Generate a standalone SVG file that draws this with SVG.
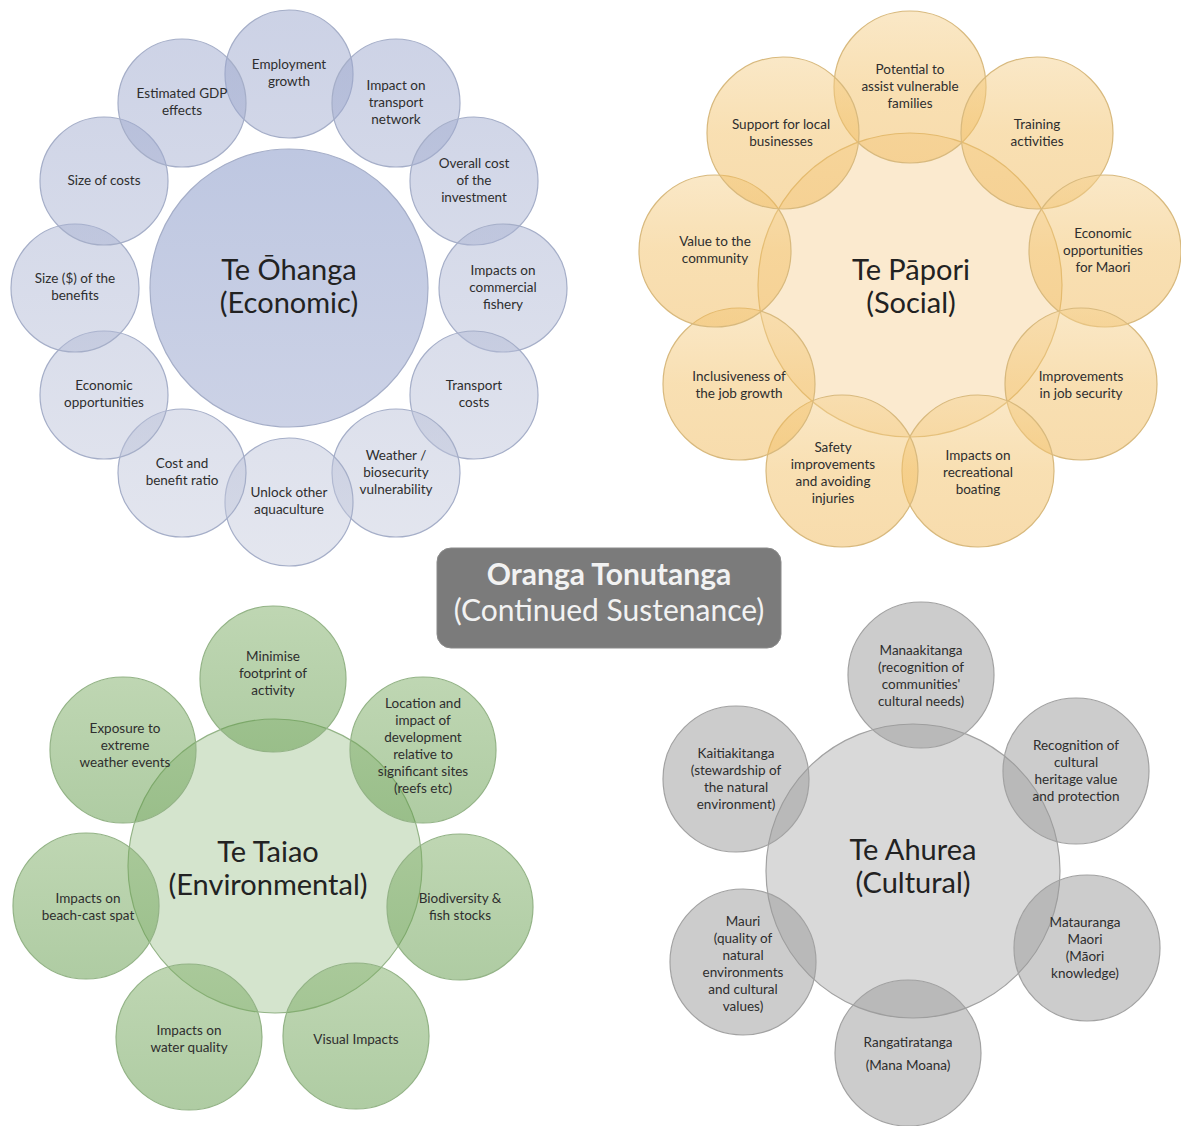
<svg xmlns="http://www.w3.org/2000/svg" width="1181" height="1126" viewBox="0 0 1181 1126">
<defs>
<linearGradient id="gEcoSat" gradientUnits="userSpaceOnUse" x1="0" y1="20" x2="0" y2="565">
<stop offset="0" stop-color="#95a1ca"/>
<stop offset="1" stop-color="#c6cbdd"/>
</linearGradient>
<linearGradient id="gEcoCen" x1="0" y1="0" x2="0" y2="1">
<stop offset="0" stop-color="#bec7e1"/>
<stop offset="1" stop-color="#ccd2e6"/>
</linearGradient>
<linearGradient id="gSocSat" x1="0" y1="0" x2="0" y2="1">
<stop offset="0" stop-color="#f5d18f"/>
<stop offset="0.5" stop-color="#f2c066"/>
<stop offset="1" stop-color="#f0b95a"/>
</linearGradient>
<linearGradient id="gEnvSat" x1="0" y1="0" x2="0" y2="1">
<stop offset="0" stop-color="#7fae67"/>
<stop offset="1" stop-color="#5f9947"/>
</linearGradient>
</defs>
<style>
.eco-sat{fill:url(#gEcoSat);fill-opacity:0.48;stroke:#a5aec8;stroke-width:1.2}
.eco-cen{fill:url(#gEcoCen);stroke:#a5aec8;stroke-width:1.2}
.soc-sat{fill:url(#gSocSat);fill-opacity:0.5;stroke:#d8b97d;stroke-width:1.2}
.soc-cen{fill:#f4c57a;fill-opacity:0.36;stroke:#d8b97d;stroke-width:1.2}
.env-sat{fill:url(#gEnvSat);fill-opacity:0.5;stroke:#93b386;stroke-width:1.2}
.env-cen{fill:#72a65a;fill-opacity:0.3;stroke:#93b386;stroke-width:1.2}
.cul-sat{fill:#9a9a9a;fill-opacity:0.5;stroke:#a2a2a2;stroke-width:1.2}
.cul-cen{fill:#9a9a9a;fill-opacity:0.38;stroke:#a2a2a2;stroke-width:1.2}
.lbl{font-family:Lato,"Liberation Sans",sans-serif;font-size:13.5px;fill:#2e2e2e;text-anchor:middle}
.title{font-family:Lato,"Liberation Sans",sans-serif;font-size:29px;fill:#222;text-anchor:middle}
.hub{font-family:Lato,"Liberation Sans",sans-serif;font-size:30px;fill:#f2f2f2;text-anchor:middle}
</style>
<rect width="1181" height="1126" fill="#ffffff"/>

<g id="connectors"></g>

<!-- ECONOMIC -->
<g id="economic">
<g id="eco-center"><circle class="eco-cen" cx="289" cy="288" r="139"/>
<text class="title" x="289" y="280">Te Ōhanga<tspan x="289" dy="33">(Economic)</tspan></text></g>
<g id="eco-employment"><circle class="eco-sat" cx="289" cy="74" r="64"/>
<text class="lbl" x="289" y="69">Employment<tspan x="289" dy="17">growth</tspan></text></g>
<g id="eco-transport-network"><circle class="eco-sat" cx="396" cy="103" r="64"/>
<text class="lbl" x="396" y="90">Impact on<tspan x="396" dy="17">transport</tspan><tspan x="396" dy="17">network</tspan></text></g>
<g id="eco-overall-cost"><circle class="eco-sat" cx="474" cy="181" r="64"/>
<text class="lbl" x="474" y="168">Overall cost<tspan x="474" dy="17">of the</tspan><tspan x="474" dy="17">investment</tspan></text></g>
<g id="eco-fishery"><circle class="eco-sat" cx="503" cy="288" r="64"/>
<text class="lbl" x="503" y="275">Impacts on<tspan x="503" dy="17">commercial</tspan><tspan x="503" dy="17">fishery</tspan></text></g>
<g id="eco-transport-costs"><circle class="eco-sat" cx="474" cy="395" r="64"/>
<text class="lbl" x="474" y="390">Transport<tspan x="474" dy="17">costs</tspan></text></g>
<g id="eco-weather"><circle class="eco-sat" cx="396" cy="473" r="64"/>
<text class="lbl" x="396" y="460">Weather /<tspan x="396" dy="17">biosecurity</tspan><tspan x="396" dy="17">vulnerability</tspan></text></g>
<g id="eco-aquaculture"><circle class="eco-sat" cx="289" cy="502" r="64"/>
<text class="lbl" x="289" y="497">Unlock other<tspan x="289" dy="17">aquaculture</tspan></text></g>
<g id="eco-ratio"><circle class="eco-sat" cx="182" cy="473" r="64"/>
<text class="lbl" x="182" y="468">Cost and<tspan x="182" dy="17">benefit ratio</tspan></text></g>
<g id="eco-opportunities"><circle class="eco-sat" cx="104" cy="395" r="64"/>
<text class="lbl" x="104" y="390">Economic<tspan x="104" dy="17">opportunities</tspan></text></g>
<g id="eco-benefits"><circle class="eco-sat" cx="75" cy="288" r="64"/>
<text class="lbl" x="75" y="283">Size ($) of the<tspan x="75" dy="17">benefits</tspan></text></g>
<g id="eco-costs"><circle class="eco-sat" cx="104" cy="181" r="64"/>
<text class="lbl" x="104" y="185">Size of costs</text></g>
<g id="eco-gdp"><circle class="eco-sat" cx="182" cy="103" r="64"/>
<text class="lbl" x="182" y="98">Estimated GDP<tspan x="182" dy="17">effects</tspan></text></g>
</g>

<!-- SOCIAL -->
<g id="social">
<g id="soc-center"><circle class="soc-cen" cx="910" cy="285" r="152"/>
<text class="title" x="911" y="280">Te Pāpori<tspan x="911" dy="33">(Social)</tspan></text></g>
<g id="soc-vulnerable"><circle class="soc-sat" cx="910" cy="87" r="76"/>
<text class="lbl" x="910" y="74">Potential to<tspan x="910" dy="17">assist vulnerable</tspan><tspan x="910" dy="17">families</tspan></text></g>
<g id="soc-training"><circle class="soc-sat" cx="1037" cy="133" r="76"/>
<text class="lbl" x="1037" y="129">Training<tspan x="1037" dy="17">activities</tspan></text></g>
<g id="soc-maori"><circle class="soc-sat" cx="1105" cy="251" r="76"/>
<text class="lbl" x="1103" y="238">Economic<tspan x="1103" dy="17">opportunities</tspan><tspan x="1103" dy="17">for Maori</tspan></text></g>
<g id="soc-job-security"><circle class="soc-sat" cx="1081" cy="384" r="76"/>
<text class="lbl" x="1081" y="381">Improvements<tspan x="1081" dy="17">in job security</tspan></text></g>
<g id="soc-boating"><circle class="soc-sat" cx="978" cy="471" r="76"/>
<text class="lbl" x="978" y="460">Impacts on<tspan x="978" dy="17">recreational</tspan><tspan x="978" dy="17">boating</tspan></text></g>
<g id="soc-safety"><circle class="soc-sat" cx="842" cy="471" r="76"/>
<text class="lbl" x="833" y="452">Safety<tspan x="833" dy="17">improvements</tspan><tspan x="833" dy="17">and avoiding</tspan><tspan x="833" dy="17">injuries</tspan></text></g>
<g id="soc-inclusiveness"><circle class="soc-sat" cx="739" cy="384" r="76"/>
<text class="lbl" x="739" y="381">Inclusiveness of<tspan x="739" dy="17">the job growth</tspan></text></g>
<g id="soc-community"><circle class="soc-sat" cx="715" cy="251" r="76"/>
<text class="lbl" x="715" y="246">Value to the<tspan x="715" dy="17">community</tspan></text></g>
<g id="soc-local"><circle class="soc-sat" cx="783" cy="133" r="76"/>
<text class="lbl" x="781" y="129">Support for local<tspan x="781" dy="17">businesses</tspan></text></g>
</g>

<!-- CENTRAL LABEL -->
<g id="hub">
<rect x="437" y="548" width="344" height="100" rx="14" fill="#7b7b7b" stroke="#8a8a8a" stroke-width="1"/>
<text class="hub" x="609" y="585" font-weight="bold">Oranga Tonutanga</text>
<text class="hub" x="609" y="621">(Continued Sustenance)</text>
</g>

<!-- ENVIRONMENTAL -->
<g id="environmental">
<g id="env-center"><circle class="env-cen" cx="275" cy="866" r="147"/>
<text class="title" x="268" y="862">Te Taiao<tspan x="268" dy="33">(Environmental)</tspan></text></g>
<g id="env-footprint"><circle class="env-sat" cx="273" cy="679" r="73"/>
<text class="lbl" x="273" y="661">Minimise<tspan x="273" dy="17">footprint of</tspan><tspan x="273" dy="17">activity</tspan></text></g>
<g id="env-location"><circle class="env-sat" cx="423" cy="750" r="73"/>
<text class="lbl" x="423" y="708">Location and<tspan x="423" dy="17">impact of</tspan><tspan x="423" dy="17">development</tspan><tspan x="423" dy="17">relative to</tspan><tspan x="423" dy="17">significant sites</tspan><tspan x="423" dy="17">(reefs etc)</tspan></text></g>
<g id="env-biodiversity"><circle class="env-sat" cx="460" cy="907" r="73"/>
<text class="lbl" x="460" y="903">Biodiversity &amp;<tspan x="460" dy="17">fish stocks</tspan></text></g>
<g id="env-visual"><circle class="env-sat" cx="356" cy="1036" r="73"/>
<text class="lbl" x="356" y="1044">Visual Impacts</text></g>
<g id="env-water"><circle class="env-sat" cx="189" cy="1037" r="73"/>
<text class="lbl" x="189" y="1035">Impacts on<tspan x="189" dy="17">water quality</tspan></text></g>
<g id="env-spat"><circle class="env-sat" cx="86" cy="906" r="73"/>
<text class="lbl" x="88" y="903">Impacts on<tspan x="88" dy="17">beach-cast spat</tspan></text></g>
<g id="env-weather"><circle class="env-sat" cx="123" cy="750" r="73"/>
<text class="lbl" x="125" y="733">Exposure to<tspan x="125" dy="17">extreme</tspan><tspan x="125" dy="17">weather events</tspan></text></g>
</g>

<!-- CULTURAL -->
<g id="cultural">
<g id="cul-center"><circle class="cul-cen" cx="913" cy="871" r="147"/>
<text class="title" x="913" y="860">Te Ahurea<tspan x="913" dy="33">(Cultural)</tspan></text></g>
<g id="cul-manaakitanga"><circle class="cul-sat" cx="921" cy="675" r="73"/>
<text class="lbl" x="921" y="655">Manaakitanga<tspan x="921" dy="17">(recognition of</tspan><tspan x="921" dy="17">communities'</tspan><tspan x="921" dy="17">cultural needs)</tspan></text></g>
<g id="cul-heritage"><circle class="cul-sat" cx="1076" cy="771" r="73"/>
<text class="lbl" x="1076" y="750">Recognition of<tspan x="1076" dy="17">cultural</tspan><tspan x="1076" dy="17">heritage value</tspan><tspan x="1076" dy="17">and protection</tspan></text></g>
<g id="cul-matauranga"><circle class="cul-sat" cx="1087" cy="948" r="73"/>
<text class="lbl" x="1085" y="927">Matauranga<tspan x="1085" dy="17">Maori</tspan><tspan x="1085" dy="17">(Māori</tspan><tspan x="1085" dy="17">knowledge)</tspan></text></g>
<g id="cul-rangatiratanga"><circle class="cul-sat" cx="908" cy="1053" r="73"/>
<text class="lbl" x="908" y="1047">Rangatiratanga<tspan x="908" dy="23">(Mana Moana)</tspan></text></g>
<g id="cul-mauri"><circle class="cul-sat" cx="743" cy="962" r="73"/>
<text class="lbl" x="743" y="926">Mauri<tspan x="743" dy="17">(quality of</tspan><tspan x="743" dy="17">natural</tspan><tspan x="743" dy="17">environments</tspan><tspan x="743" dy="17">and  cultural</tspan><tspan x="743" dy="17">values)</tspan></text></g>
<g id="cul-kaitiakitanga"><circle class="cul-sat" cx="736" cy="779" r="73"/>
<text class="lbl" x="736" y="758">Kaitiakitanga<tspan x="736" dy="17">(stewardship of</tspan><tspan x="736" dy="17">the natural</tspan><tspan x="736" dy="17">environment)</tspan></text></g>
</g>
</svg>
